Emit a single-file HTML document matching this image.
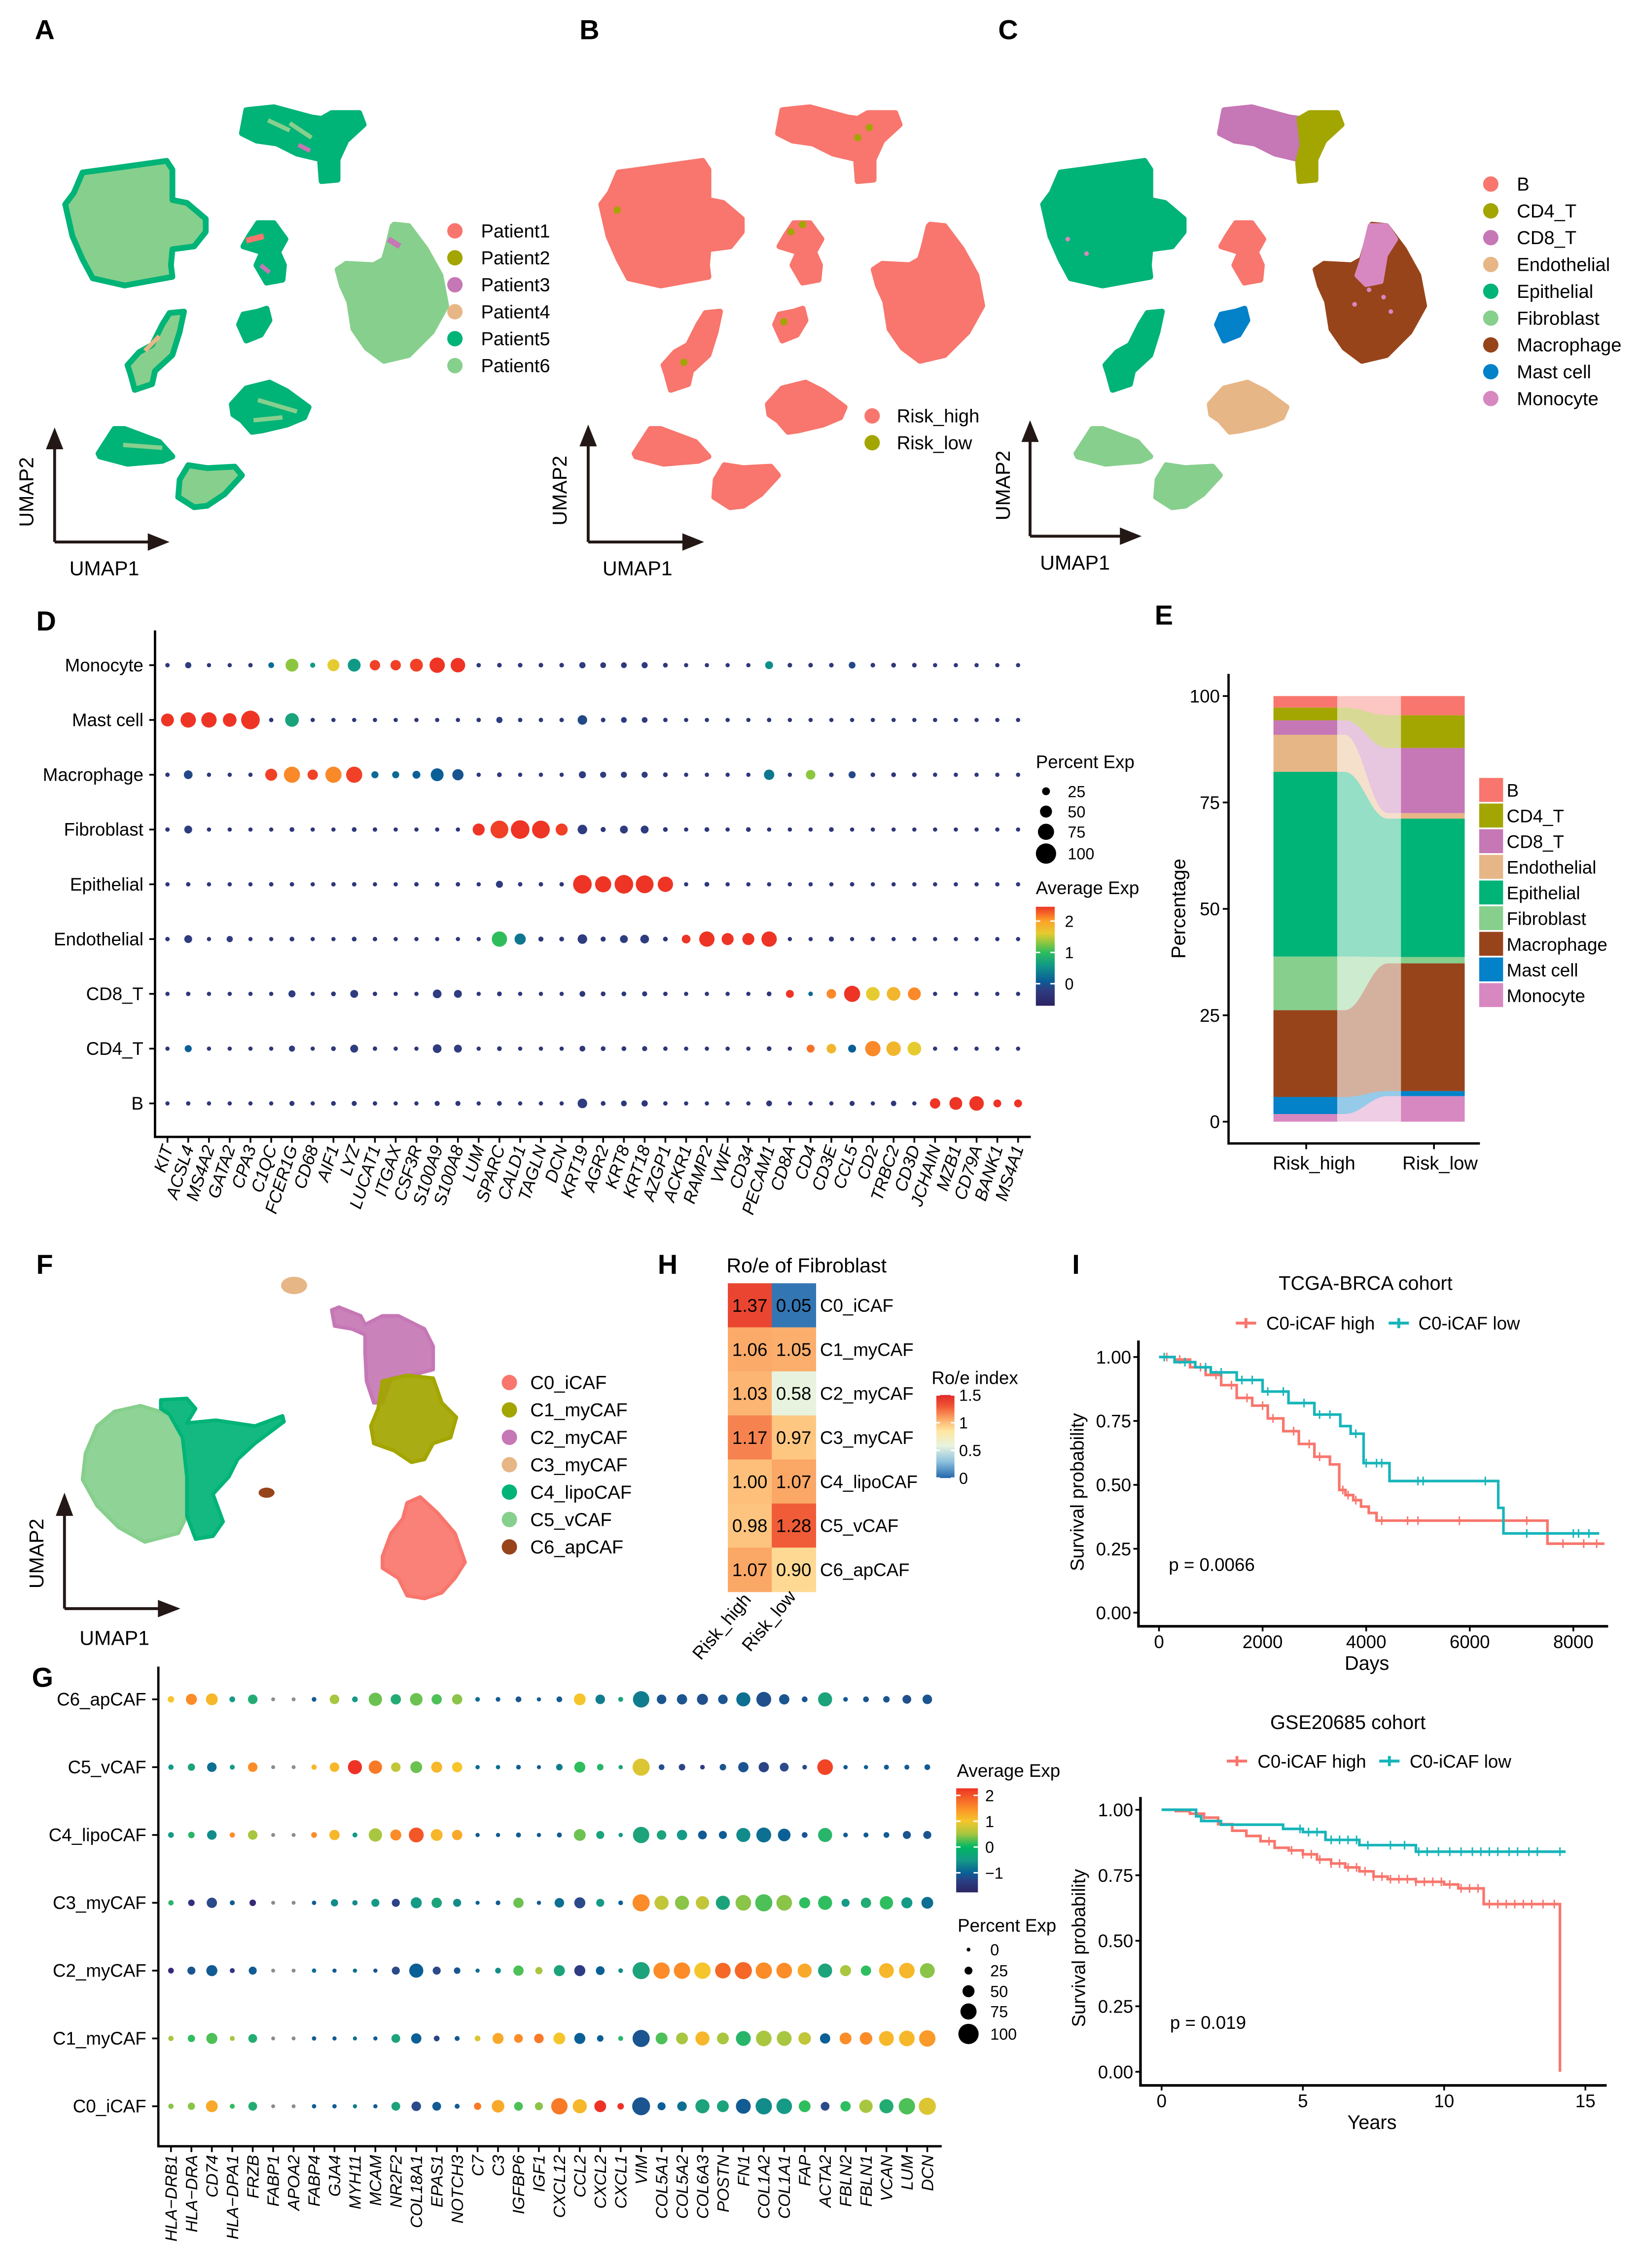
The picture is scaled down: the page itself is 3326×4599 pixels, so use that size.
<!DOCTYPE html>
<html><head><meta charset="utf-8"><style>
html,body{margin:0;padding:0;background:#fff}
svg{display:block}
text{font-family:"Liberation Sans",Arial,sans-serif;fill:#000}
.pl{font-weight:bold;font-size:19px}
</style></head><body>
<svg id="fig" xmlns="http://www.w3.org/2000/svg" width="3326" height="4599" viewBox="0 0 1132 1565" preserveAspectRatio="none">
<rect width="1132" height="1565" fill="#fff"/>
<text class="pl" x="24" y="27">A</text>
<text class="pl" x="400" y="27">B</text>
<text class="pl" x="689" y="27">C</text>
<text class="pl" x="25" y="435">D</text>
<text class="pl" x="797" y="431">E</text>
<text class="pl" x="25" y="879">F</text>
<text class="pl" x="22" y="1164">G</text>
<text class="pl" x="454" y="879">H</text>
<text class="pl" x="740" y="879">I</text>
<g id="root"></g>
</svg>
<script>
// ---------- data ----------
const umapClusters = ["Epithelial","CD8_T","CD4_T","B","Mast cell","Macrophage","Monocyte","EpiArm","Endothelial","Fibro1","Fibro2"];
const patientLabels = ["Patient1","Patient2","Patient3","Patient4","Patient5","Patient6"];
const riskLabels = ["Risk_high","Risk_low"];
const cellTypes = ["B","CD4_T","CD8_T","Endothelial","Epithelial","Fibroblast","Macrophage","Mast cell","Monocyte"];

const dGenes = ["KIT","ACSL4","MS4A2","GATA2","CPA3","C1QC","FCER1G","CD68","AIF1","LYZ","LUCAT1","ITGAX","CSF3R","S100A9","S100A8","LUM","SPARC","CALD1","TAGLN","DCN","KRT19","AGR2","KRT8","KRT18","AZGP1","ACKR1","RAMP2","VWF","CD34","PECAM1","CD8A","CD4","CD3E","CCL5","CD2","TRBC2","CD3D","JCHAIN","MZB1","CD79A","BANK1","MS4A1"];
const dRows = ["Monocyte","Mast cell","Macrophage","Fibroblast","Epithelial","Endothelial","CD8_T","CD4_T","B"];
const monoExp = [-0.3,-0.2,-0.3,-0.3,-0.3,0.2,1.3,0.6,1.6,0.6,2.4,2.4,2.4,2.5,2.5,-0.3,-0.3,-0.3,-0.3,-0.3,-0.2,-0.25,-0.25,-0.25,-0.3,-0.3,-0.3,-0.3,-0.3,0.5,-0.3,-0.3,-0.3,-0.1,-0.3,-0.3,-0.3,-0.3,-0.3,-0.3,-0.3,-0.3];
const monoPct = [4,15,3,3,4,12,55,8,50,55,40,40,55,70,65,4,5,5,5,5,15,12,12,14,6,3,3,3,3,25,5,5,5,18,5,6,5,3,3,3,3,3];
const mastExp = [2.5,2.5,2.5,2.5,2.5,-0.3,0.7,-0.3,-0.3,-0.3,-0.3,-0.3,-0.3,-0.3,-0.3,-0.3,-0.2,-0.3,-0.3,-0.3,-0.1,-0.3,-0.2,-0.2,-0.3,-0.3,-0.3,-0.3,-0.3,-0.3,-0.3,-0.3,-0.3,-0.3,-0.3,-0.3,-0.3,-0.3,-0.3,-0.3,-0.3,-0.3];
const mastPct = [55,70,70,60,90,4,60,3,3,3,3,3,3,3,3,4,15,4,4,4,35,5,12,12,4,3,3,3,3,4,3,3,3,3,3,3,3,3,3,3,3,3];
const macExp = [-0.3,-0.1,-0.3,-0.3,-0.3,2.4,2.1,2.4,2.1,2.4,0.2,0.2,0.1,0.1,0.0,-0.3,-0.3,-0.3,-0.3,-0.3,-0.2,-0.2,-0.2,-0.2,-0.3,-0.3,-0.3,-0.3,-0.3,0.3,-0.3,1.3,-0.3,-0.1,-0.3,-0.3,-0.3,-0.3,-0.3,-0.3,-0.3,-0.3];
const macPct = [4,30,3,3,3,50,75,40,75,75,20,20,25,55,45,3,6,3,3,3,20,14,14,14,6,3,3,3,3,40,3,35,5,20,5,6,5,3,3,3,3,3];
const fibExp = [-0.3,-0.2,-0.3,-0.3,-0.3,-0.3,-0.3,-0.3,-0.3,-0.3,-0.3,-0.3,-0.3,-0.3,-0.3,2.5,2.4,2.5,2.5,2.4,-0.2,-0.3,-0.2,-0.2,-0.3,-0.3,-0.3,-0.3,-0.3,-0.3,-0.3,-0.3,-0.3,-0.3,-0.3,-0.3,-0.3,-0.3,-0.3,-0.3,-0.3,-0.3];
const fibPct = [4,25,3,3,3,3,6,3,3,6,4,3,3,3,3,50,85,90,85,50,35,8,25,25,6,3,6,3,6,3,3,3,6,3,3,3,3,3,3,3,3,3];
const epiExp = [-0.3,-0.3,-0.3,-0.3,-0.3,-0.3,-0.3,-0.3,-0.3,-0.3,-0.3,-0.3,-0.3,-0.3,-0.3,-0.3,-0.2,-0.3,-0.3,-0.3,2.5,2.5,2.5,2.5,2.5,-0.3,-0.3,-0.3,-0.3,-0.3,-0.3,-0.3,-0.3,-0.3,-0.3,-0.3,-0.3,-0.3,-0.3,-0.3,-0.3,-0.3];
const epiPct = [3,4,3,3,3,4,4,3,4,4,3,3,4,5,4,3,20,4,4,4,90,75,90,85,70,3,6,3,3,3,3,3,3,4,3,3,3,3,3,3,3,3];
const endoExp = [-0.3,-0.2,-0.3,-0.2,-0.3,-0.3,-0.3,-0.3,-0.3,-0.3,-0.3,-0.3,-0.3,-0.3,-0.3,-0.3,1.0,0.3,-0.3,-0.3,-0.2,-0.3,-0.2,-0.2,-0.3,2.5,2.5,2.5,2.5,2.5,-0.3,-0.3,-0.3,-0.3,-0.3,-0.3,-0.3,-0.3,-0.3,-0.3,-0.3,-0.3];
const endoPct = [4,25,3,15,3,3,6,3,3,6,4,3,3,3,3,3,70,45,8,6,35,8,25,30,6,30,70,50,50,70,3,3,8,3,4,3,3,3,3,3,3,3];
const cd8Exp = [-0.3,-0.3,-0.3,-0.3,-0.3,-0.3,-0.2,-0.3,-0.3,-0.2,-0.3,-0.3,-0.3,-0.2,-0.2,-0.3,-0.3,-0.3,-0.3,-0.3,-0.3,-0.3,-0.3,-0.3,-0.3,-0.3,-0.3,-0.3,-0.3,-0.3,2.5,0.2,2.1,2.5,1.6,1.8,2.1,-0.3,-0.3,-0.3,-0.3,-0.3];
const cd8Pct = [3,4,3,3,3,3,20,3,6,25,4,3,3,30,25,3,6,3,3,3,12,6,6,8,4,3,3,3,3,6,25,5,35,75,60,60,55,3,3,3,3,3];
const cd4Exp = [-0.3,0.1,-0.3,-0.3,-0.3,-0.3,-0.2,-0.3,-0.3,-0.2,-0.3,-0.3,-0.3,-0.2,-0.2,-0.3,-0.3,-0.3,-0.3,-0.3,-0.3,-0.3,-0.3,-0.3,-0.3,-0.3,-0.3,-0.3,-0.3,-0.3,-0.3,2.2,1.8,0.1,2.1,1.8,1.6,-0.3,-0.3,-0.3,-0.3,-0.3];
const cd4Pct = [3,20,3,3,3,3,14,3,6,25,4,3,3,30,25,3,6,3,3,3,12,6,6,8,4,3,3,3,3,6,3,25,35,25,70,65,60,3,3,3,3,3];
const bExp = [-0.3,-0.3,-0.3,-0.3,-0.3,-0.3,-0.3,-0.3,-0.3,-0.3,-0.3,-0.3,-0.3,-0.3,-0.3,-0.3,-0.3,-0.3,-0.3,-0.3,-0.2,-0.3,-0.3,-0.3,-0.3,-0.3,-0.3,-0.3,-0.3,-0.3,-0.3,-0.3,-0.3,-0.3,-0.3,-0.3,-0.3,2.5,2.5,2.5,2.5,2.5];
const bPct = [3,4,3,3,3,3,8,3,6,8,4,3,3,8,8,3,6,3,3,3,35,6,12,15,4,3,3,3,3,12,3,3,3,8,3,10,3,40,55,65,25,25];
const dExp = [monoExp,mastExp,macExp,fibExp,epiExp,endoExp,cd8Exp,cd4Exp,bExp];
const dPct = [monoPct,mastPct,macPct,fibPct,epiPct,endoPct,cd8Pct,cd4Pct,bPct];
const dSizeTicks = [25,50,75,100];
const dColorTicks = [2,1,0];

const eGroups = ["Risk_high","Risk_low"];
const eOrder = ["Monocyte","Mast cell","Macrophage","Fibroblast","Epithelial","Endothelial","CD8_T","CD4_T","B"];
const eHigh = [1.8,4.0,20.4,12.6,43.4,8.7,3.4,3.0,2.7];
const eLow = [6.0,1.2,30.0,1.5,32.5,1.3,15.3,7.7,4.5];
const eTicks = [0,25,50,75,100];

const fLabels = ["C0_iCAF","C1_myCAF","C2_myCAF","C3_myCAF","C4_lipoCAF","C5_vCAF","C6_apCAF"];

const gGenes = ["HLA−DRB1","HLA−DRA","CD74","HLA−DPA1","FRZB","FABP1","APOA2","FABP4","GJA4","MYH11","MCAM","NR2F2","COL18A1","EPAS1","NOTCH3","C7","C3","IGFBP6","IGF1","CXCL12","CCL2","CXCL2","CXCL1","VIM","COL5A1","COL5A2","COL6A3","POSTN","FN1","COL1A2","COL1A1","FAP","ACTA2","FBLN2","FBLN1","VCAN","LUM","DCN"];
const gRows = ["C6_apCAF","C5_vCAF","C4_lipoCAF","C3_myCAF","C2_myCAF","C1_myCAF","C0_iCAF"];
const c6Exp = [1.1,1.5,1.2,0,0.2,null,null,-0.5,0.8,0,0.6,0.2,0.6,0.5,0.7,-0.3,-0.5,-0.6,-0.5,-0.5,1.1,-0.2,0.1,-0.2,-0.6,-0.6,-0.7,-0.6,-0.3,-0.7,-0.6,-0.6,0.1,-0.5,-0.6,-0.6,-0.7,-0.6];
const c6Pct = [20,50,55,15,40,3,3,8,40,15,65,45,60,45,45,8,8,15,5,15,55,40,10,85,40,45,50,40,70,75,45,15,70,8,15,20,35,40];
const c5Exp = [0,0.1,-0.3,0,1.5,null,null,1.2,1.2,2.1,1.6,0.9,0.6,1.2,1.1,-0.3,-0.3,-0.5,-0.5,-0.2,0.4,0.3,0.1,1.0,-0.7,-0.9,-1.0,-0.6,-0.6,-0.9,-0.8,-0.8,1.9,-0.5,-0.4,-0.5,-0.5,-0.5];
const c5Pct = [12,25,40,10,40,3,3,12,40,70,65,40,55,50,45,6,6,8,4,20,50,20,6,90,15,20,8,20,45,45,35,8,80,6,5,10,10,15];
const c4Exp = [0,0.3,-0.1,1.5,0.8,null,null,1.5,1.2,0,0.8,1.5,1.8,1.2,1.3,-0.5,-0.5,-0.5,-0.5,-0.5,0.6,0.1,0,0.1,0.1,0,-0.5,-0.5,-0.1,-0.3,-0.4,-0.6,0.3,-0.5,-0.5,-0.5,-0.6,-0.6];
const c4Pct = [15,20,40,12,40,3,3,15,45,10,65,50,75,55,45,5,5,10,5,10,55,30,6,85,40,45,35,30,70,75,60,15,70,8,10,15,30,30];
const c3Exp = [0.3,-1.2,-0.8,-0.5,-1.3,null,null,-0.5,-0.1,-0.1,0,-0.9,0,0.1,-0.1,-0.4,-0.5,0.6,-0.5,-0.3,-0.8,0,-0.4,1.5,0.9,0.7,0.9,0.1,0.7,0.5,0.7,0.4,0.4,0,0.2,0.4,0,-0.3];
const c3Pct = [12,20,45,10,20,3,3,6,25,12,30,30,50,45,30,4,8,45,5,40,50,30,8,90,70,70,65,70,80,90,80,50,70,30,45,65,50,55];
const c2Exp = [-1.3,-0.6,-0.5,-1.1,-0.5,null,null,-0.3,-0.5,-0.3,-0.6,-0.8,-0.4,-0.8,-0.6,-0.3,-0.1,0.5,0.8,0.1,-1.0,-0.4,-0.1,0.1,1.5,1.5,1.1,1.7,1.7,1.5,1.5,1.3,0.1,0.8,0.4,1.2,1.2,0.7];
const c2Pct = [15,30,50,10,30,3,3,6,5,5,5,30,70,30,20,5,15,45,25,50,50,35,8,90,85,85,85,80,90,85,80,70,70,50,45,75,80,75];
const c1Exp = [0.8,0.4,0.5,0.8,0.2,null,null,-0.5,-0.5,-0.3,-0.5,0.1,-0.4,-0.9,-0.5,1.0,1.3,1.5,1.6,1.1,-0.4,-0.4,0.3,-0.6,0.5,0.8,1.2,0.8,0.3,0.8,0.8,0.9,-0.4,1.5,1.5,1.2,1.2,1.4];
const c1Pct = [12,25,50,10,35,3,3,6,5,4,5,35,45,15,10,15,50,35,40,55,50,20,10,90,55,55,70,55,75,80,75,60,45,55,60,75,80,85];
const c0Exp = [0.7,0.7,1.3,0.4,0.2,null,null,-0.5,-0.5,-0.2,-0.5,0.1,-0.8,-0.5,-0.5,1.6,1.3,0.5,0.7,1.6,1.2,2.0,2.1,-0.6,-0.4,-0.3,0.1,0.1,-0.5,-0.1,0,0.4,-0.8,0.4,0.8,0.2,0.5,1.0];
const c0Pct = [12,25,55,10,35,3,3,6,6,5,5,35,40,35,10,25,60,35,30,85,70,55,20,95,30,40,70,55,75,85,80,55,35,45,65,70,85,90];
const gExp = [c6Exp,c5Exp,c4Exp,c3Exp,c2Exp,c1Exp,c0Exp];
const gPct = [c6Pct,c5Pct,c4Pct,c3Pct,c2Pct,c1Pct,c0Pct];
const gSizeTicks = [0,25,50,75,100];
const gColorTicks = [2,1,0,-1];

const hRows = ["C0_iCAF","C1_myCAF","C2_myCAF","C3_myCAF","C4_lipoCAF","C5_vCAF","C6_apCAF"];
const hHigh = [1.37,1.06,1.03,1.17,1.00,0.98,1.07];
const hLow = [0.05,1.05,0.58,0.97,1.07,1.28,0.90];
const hTicks = [1.5,1,0.5,0];

const km1HighT = [0,300,600,900,1200,1500,1800,2100,2400,2700,3000,3300,3480,3600,3750,3900,4050,4200,7500];
const km1HighS = [1,0.99,0.96,0.93,0.89,0.84,0.81,0.76,0.71,0.66,0.61,0.58,0.48,0.46,0.44,0.415,0.39,0.36,0.27];
const km1LowT = [0,300,700,1000,1500,2000,2500,3000,3500,3700,3950,4450,6550,6650];
const km1LowS = [1,0.98,0.96,0.94,0.91,0.865,0.82,0.775,0.73,0.70,0.585,0.515,0.41,0.31];
const km1HighCens = [150,400,800,1100,1400,1700,2000,2200,2600,2900,3100,3550,3650,3800,4300,4800,5000,5800,7100,7800,8200,8450];
const km1LowCens = [100,500,900,1200,1600,1800,2100,2400,2800,3100,3300,3800,4000,4200,4300,5000,5100,6300,7100,8000,8100,8300];
const km1XTicks = [0,2000,4000,6000,8000];
const km2HighT = [0,0.5,1,1.5,2,2.5,3,3.5,4,4.5,5,5.5,6,6.5,7,7.5,8,9,10,10.5,11.4,14.1];
const km2HighS = [1,0.995,0.985,0.97,0.945,0.92,0.90,0.88,0.855,0.845,0.83,0.81,0.795,0.78,0.765,0.745,0.735,0.725,0.715,0.70,0.64,0];
const km2LowT = [0,1.22,1.4,2.1,4.3,5,5.8,7,9];
const km2LowS = [1,0.975,0.957,0.943,0.927,0.915,0.885,0.865,0.84];
const km2HighCens = [1.5,3.8,4.6,5.0,5.3,5.6,6.0,6.3,6.6,6.9,7.2,7.5,7.8,8.1,8.4,8.7,9.0,9.3,9.6,9.9,10.2,10.6,10.9,11.2,11.6,11.9,12.2,12.5,12.8,13.1,13.5,13.9];
const km2LowCens = [4.9,5.2,5.5,6.0,6.3,6.6,6.9,7.3,8.1,8.6,9.1,9.4,9.8,10.2,10.6,11.0,11.3,11.6,11.9,12.3,12.6,13.0,13.3,14.1];
const yTicksKM = [0,0.25,0.5,0.75,1];
const km2XTicks = [0,5,10,15];

// ---------- helpers ----------
const NS="http://www.w3.org/2000/svg";
const root=document.getElementById('root');
function mk(tag,attrs,parent,txt){const e=document.createElementNS(NS,tag);for(const k in attrs)e.setAttribute(k,attrs[k]);if(txt!==undefined)e.textContent=txt;(parent||root).appendChild(e);return e;}
function grp(name,parent){const g=mk('g',{},parent);


return g;}
function hex2rgb(h){return [parseInt(h.slice(1,3),16),parseInt(h.slice(3,5),16),parseInt(h.slice(5,7),16)];}
function interp(stops,v){if(v<=stops[0][0])return stops[0][1];if(v>=stops[stops.length-1][0])return stops[stops.length-1][1];
for(let i=0;i<stops.length-1;i++){const a=stops[i],b=stops[i+1];if(v>=a[0]&&v<=b[0]){const t=(v-a[0])/(b[0]-a[0]);const A=hex2rgb(a[1]),B=hex2rgb(b[1]);
return 'rgb('+A.map((x,j)=>Math.round(x+(B[j]-x)*t)).join(',')+')';}}}
const dStops=[[-0.7,'#2b2263'],[-0.2,'#2f3c80'],[0.1,'#0b5f97'],[0.6,'#109a86'],[1.0,'#2fbd5c'],[1.3,'#8cc640'],[1.6,'#e6cb30'],[2.0,'#fca12a'],[2.45,'#ee3425']];
const gStops=[[-1.3,'#352a78'],[-0.8,'#2a4a8a'],[-0.4,'#0a6096'],[0,'#159a86'],[0.4,'#2fbe5f'],[0.8,'#a8c640'],[1.1,'#f6c52b'],[1.5,'#fb8c28'],[2.0,'#ee3326']];
const hStops=[[0,'#2166ac'],[0.3,'#8ec3de'],[0.58,'#e8f3df'],[0.85,'#fee6a0'],[1.0,'#fdbf7a'],[1.1,'#fa9c5e'],[1.3,'#ef5533'],[1.5,'#e0282a']];
const radius=p=>1.3+0.057*p;

// ---------- UMAP panels A-C ----------
const umapPts={
Epithelial:[[45,141],[51,133],[57,119],[72,117],[115,111],[119,117],[119,138],[129,140],[142,151],[142,160],[134,170],[119,172],[118,183],[119,191],[86,197],[64,192],[57,179],[50,163]],
CD8_T:[[167,92],[170,76],[189,74],[215,81],[222,82],[224,100],[222,110],[205,106],[191,99],[177,97]],
CD4_T:[[222,82],[229,78],[248,78],[251,86],[239,97],[233,110],[233,124],[222,125],[221,112],[224,100]],
B:[[168,170],[172,163],[178,154],[189,154],[197,165],[192,174],[196,183],[195,193],[184,195],[177,183],[181,174]],
"Mast cell":[[165,224],[168,217],[178,215],[184,213],[186,221],[180,231],[170,235]],
Macrophage:[[233,186],[239,182],[258,183],[265,179],[272,155],[282,156],[294,172],[304,190],[308,211],[298,229],[282,245],[265,249],[253,240],[244,227],[241,208],[236,197]],
Monocyte:[[265,181],[271,156],[282,156],[288,165],[281,176],[278,194],[268,196],[262,190]],
EpiArm:[[88,252],[96,243],[105,238],[112,224],[117,216],[127,215],[124,229],[119,245],[107,256],[105,265],[93,269],[90,258]],
Endothelial:[[160,279],[170,268],[186,264],[198,270],[213,281],[210,288],[198,293],[181,297],[174,298],[167,290],[161,286]],
Fibro1:[[68,313],[79,296],[86,296],[110,305],[119,315],[112,318],[100,319],[88,320],[69,315]],
Fibro2:[[124,331],[130,321],[143,323],[162,322],[167,328],[155,341],[143,349],[134,350],[123,343]]};
const ctCol={B:'#f8766d',CD4_T:'#a3a500',CD8_T:'#c677b5',Endothelial:'#e7b686',Epithelial:'#00b377',Fibroblast:'#87cf8d',Macrophage:'#98441b','Mast cell':'#0381c9',Monocyte:'#d888c0'};
const patCol=['#f8766d','#a3a500','#c677b5','#e7b686','#00b377','#87cf8d'];
const colA={Epithelial:['#87cf8d','#00b377'],CD8_T:['#00b377','#00b377'],CD4_T:['#00b377','#00b377'],B:['#00b377','#00b377'],"Mast cell":['#00b377','#00b377'],Macrophage:['#87cf8d','#87cf8d'],Monocyte:['#87cf8d','#87cf8d'],EpiArm:['#87cf8d','#00b377'],Endothelial:['#00b377','#00b377'],Fibro1:['#00b377','#00b377'],Fibro2:['#87cf8d','#00b377']};
const colC={Epithelial:'#00b377',CD8_T:'#c677b5',CD4_T:'#a3a500',B:'#f8766d',"Mast cell":'#0381c9',Macrophage:'#98441b',Monocyte:'#d888c0',EpiArm:'#00b377',Endothelial:'#e7b686',Fibro1:'#87cf8d',Fibro2:'#87cf8d'};
function drawUmap(panel,dx,mode){
 const g=grp('umap-'+panel);
 umapClusters.forEach(c=>{
  let fill,stroke;
  if(mode==='A'){fill=colA[c][0];stroke=colA[c][1];}
  else if(mode==='B'){fill='#f8766d';stroke='#f8766d';}
  else {fill=colC[c];stroke=colC[c];}
  const pts=umapPts[c].map(p=>(p[0]+dx)+','+p[1]).join(' ');
  const pg=mk('polygon',{points:pts,fill:fill,stroke:stroke,'stroke-width':4,'stroke-linejoin':'round'},g);
  
  
 });
 if(mode==='A'){
  mk('path',{d:'M'+(85+dx)+',307 L'+(112+dx)+',309',stroke:'#87cf8d','stroke-width':3},g);
  mk('path',{d:'M'+(178+dx)+',276 L'+(205+dx)+',284 M'+(175+dx)+',290 L'+(195+dx)+',288',stroke:'#87cf8d','stroke-width':3},g);
  mk('path',{d:'M'+(200+dx)+',85 L'+(215+dx)+',95 M'+(185+dx)+',83 L'+(200+dx)+',90',stroke:'#87cf8d','stroke-width':3},g);
  mk('path',{d:'M'+(206+dx)+',100 L'+(214+dx)+',104',stroke:'#c677b5','stroke-width':3},g);
  mk('path',{d:'M'+(170+dx)+',166 L'+(182+dx)+',163',stroke:'#f8766d','stroke-width':4},g);
  mk('path',{d:'M'+(180+dx)+',183 L'+(186+dx)+',188',stroke:'#c677b5','stroke-width':3},g);
  mk('path',{d:'M'+(100+dx)+',242 L'+(110+dx)+',232',stroke:'#e7b686','stroke-width':3},g);
  mk('path',{d:'M'+(268+dx)+',165 L'+(276+dx)+',170',stroke:'#c677b5','stroke-width':4},g);
 }
 if(mode==='B'){
  [[176,160],[184,155],[222,95],[230,88],[56,145],[102,250],[171,222]].forEach(p=>mk('circle',{cx:p[0]+dx,cy:p[1],r:2.5,fill:'#a3a500'},g));
 }
 if(mode==='C'){
  [[270,200],[280,205],[285,215],[260,210],[62,165],[75,175]].forEach(p=>mk('circle',{cx:p[0]+dx,cy:p[1],r:1.6,fill:'#d888c0'},g));
 }
}
drawUmap('a',0,'A');drawUmap('b',370,'B');drawUmap('c',675,'C');

function umapAxes(name,x0,yb,yt,xr,l2x,l1x,l1y){
 const g=grp(name);
 mk('path',{d:`M${x0},${yb} L${x0},${yt+12} M${x0},${yb} L${xr-12},${yb}`,stroke:'#231815','stroke-width':2,fill:'none'},g);
 mk('polygon',{points:`${x0},${yt} ${x0-6},${yt+15} ${x0+6},${yt+15}`,fill:'#231815'},g);
 mk('polygon',{points:`${xr},${yb} ${xr-15},${yb-6} ${xr-15},${yb+6}`,fill:'#231815'},g);
 mk('text',{x:l1x,y:l1y,'font-size':14,'text-anchor':'middle'},g,'UMAP1');
 mk('text',{x:l2x,y:(yb+yt)/2+5,'font-size':14,'text-anchor':'middle',transform:`rotate(-90 ${l2x} ${(yb+yt)/2+5})`},g,'UMAP2');
}
umapAxes('umap-axes-a',37.7,374,295,117,23,72,397);
umapAxes('umap-axes-b',406,374,293,486,391,440,397);
umapAxes('umap-axes-c',711,370,290,788,697,742,393);

function dotLegend(name,labels,cols,x,y0,step,fs,tx){
 const g=grp(name);
 labels.forEach((l,i)=>{const y=y0+i*step;
  const it=grp(name+'-entry',g);
  mk('circle',{cx:x,cy:y,r:5.3,fill:cols[i]},it);
  mk('text',{x:tx,y:y+4.5,'font-size':fs},it,l);
 });
}
dotLegend('legend-patients',patientLabels,patCol,314,159.3,18.6,13,332);
dotLegend('legend-risk',riskLabels,['#f8766d','#a3a500'],602,287,18.5,13,619);
dotLegend('legend-celltypes',cellTypes,cellTypes.map(c=>ctCol[c]),1029,127,18.5,13,1047);

// ---------- panel D ----------
(function(){
 const g=grp('dotplot-d');
 const x0=115.6,dx=14.32,y0=459,dy=37.8;
 const xs=i=>x0+i*dx, ys=j=>y0+j*dy;
 mk('path',{d:'M107,435 L107,784.5 L711.5,784.5',stroke:'#000','stroke-width':1.6,fill:'none'},g);
 dRows.forEach((r,j)=>{
  mk('line',{x1:103,x2:107,y1:ys(j),y2:ys(j),stroke:'#000','stroke-width':1.2},g);
  const t=mk('text',{x:99,y:ys(j)+4.3,'font-size':12.5,'text-anchor':'end'},g,r);
  
  
  dGenes.forEach((gn,i)=>{
   const c=mk('circle',{cx:xs(i),cy:ys(j),r:radius(dPct[j][i]),fill:interp(dStops,dExp[j][i])},g);
   
   
  });
 });
 dGenes.forEach((gn,i)=>{
  mk('line',{x1:xs(i),x2:xs(i),y1:784.5,y2:788.5,stroke:'#000','stroke-width':1.2},g);
  const X=xs(i)+4,Y=792;
  const t=mk('text',{x:X,y:Y,'font-size':12,'font-style':'italic','text-anchor':'end',transform:`rotate(-72 ${X} ${Y})`},g,gn);
  
  
 });
 const lg=grp('legend-d',g);
 mk('text',{x:715,y:530,'font-size':12.5},lg,'Percent Exp');
 const sy=[546,560,574,589];
 dSizeTicks.forEach((p,i)=>{mk('circle',{cx:722,cy:sy[i],r:radius(p),fill:'#000'},lg);mk('text',{x:737,y:sy[i]+4,'font-size':11},lg,String(p));});
 mk('text',{x:715,y:617,'font-size':12.5},lg,'Average Exp');
 const id='gd';const defs=mk('defs',{},lg);const lgr=mk('linearGradient',{id:id,x1:0,y1:1,x2:0,y2:0},defs);
 dStops.forEach(s=>mk('stop',{offset:((s[0]+0.7)/3.15),'stop-color':s[1]},lgr));
 mk('rect',{x:715,y:625.7,width:13,height:68.3,fill:`url(#${id})`},lg);
 const cy=v=>678.8-v*21.6;
 dColorTicks.forEach(v=>{mk('path',{d:`M715,${cy(v)} h3 M728,${cy(v)} h-3`,stroke:'#fff','stroke-width':1},lg);mk('text',{x:735,y:cy(v)+4,'font-size':11},lg,String(v));});
})();

// ---------- panel E ----------
(function(){
 const g=grp('stacked-bar-e');
 const y=v=>774-v*2.937;
 mk('path',{d:'M848,465 L848,789 L1021.5,789',stroke:'#000','stroke-width':1.6,fill:'none'},g);
 eTicks.forEach(v=>{mk('line',{x1:844,x2:848,y1:y(v),y2:y(v),stroke:'#000','stroke-width':1.2},g);mk('text',{x:842,y:y(v)+4.5,'font-size':12.5,'text-anchor':'end'},g,String(v));});
 mk('line',{x1:901.6,x2:901.6,y1:789,y2:793,stroke:'#000','stroke-width':1.2},g);
 mk('line',{x1:989.8,x2:989.8,y1:789,y2:793,stroke:'#000','stroke-width':1.2},g);
 mk('text',{x:907,y:807,'font-size':13,'text-anchor':'middle'},g,'Risk_high');
 mk('text',{x:994,y:807,'font-size':13,'text-anchor':'middle'},g,'Risk_low');
 mk('text',{x:818,y:627,'font-size':13.5,'text-anchor':'middle',transform:'rotate(-90 818 627)'},g,'Percentage');
 let a=0,b=0;
 eOrder.forEach((c,i)=>{
  const col=ctCol[c];
  const a1=a+eHigh[i], b1=b+eLow[i];
  const r1=mk('rect',{x:879,y:y(a1),width:44,height:y(a)-y(a1),fill:col},g);
  
  
  const r2=mk('rect',{x:967,y:y(b1),width:44,height:y(b)-y(b1),fill:col},g);
  
  
  const xm1=936,xm2=954;
  const d=`M923,${y(a1)} L${xm1-8},${y(a1)} C${xm1+4},${y(a1)} ${xm2-8},${y(b1)} ${xm2+4},${y(b1)} L967,${y(b1)} L967,${y(b)} L${xm2+4},${y(b)} C${xm2-8},${y(b)} ${xm1+4},${y(a)} ${xm1-8},${y(a)} L923,${y(a)} Z`;
  const f=mk('path',{d:d,fill:col,'fill-opacity':0.42},g);
  
  
  a=a1;b=b1;
 });
 const lg=grp('legend-e',g);
 cellTypes.forEach((c,i)=>{const yy=536.8+i*17.7;
  mk('rect',{x:1021,y:yy,width:16.5,height:16.5,fill:ctCol[c]},lg);
  mk('text',{x:1040,y:yy+13,'font-size':12.5,fill:c==='Fibroblast'?'#ff0000':'#000'},lg,c);});
})();

// ---------- panel F ----------
(function(){
 const g=grp('umap-f');
 const fp={
 C5:[[59,1003],[67,984],[79,974],[97,970],[117,976],[126,992],[129,1019],[129,1046],[123,1058],[100,1064],[82,1054],[67,1039],[57,1021]],
 C4:[[111,966],[129,965],[135,972],[129,982],[149,980],[176,984],[195,977],[196,981],[176,996],[164,1007],[158,1019],[147,1031],[154,1050],[147,1060],[135,1062],[129,1046],[129,1019],[126,992],[117,976],[111,972]],
 C2:[[229,904],[234,902],[249,908],[252,914],[264,908],[275,908],[293,917],[299,929],[299,945],[284,949],[270,951],[264,968],[258,968],[253,953],[252,933],[252,921],[243,917],[231,915]],
 C1:[[264,953],[281,949],[299,951],[305,968],[315,978],[311,992],[299,996],[293,1007],[284,1009],[272,1001],[258,996],[256,984],[261,972]],
 C0:[[281,1037],[290,1033],[302,1044],[314,1058],[321,1078],[314,1089],[305,1099],[293,1103],[281,1101],[275,1089],[264,1082],[264,1074],[270,1058],[278,1048]]};
 const fc={C0:'#f8766d',C1:'#a3a500',C2:'#c677b5',C3:'#e7b686',C4:'#00b377',C5:'#87cf8d',C6:'#98441b'};
 for(const k in fp){const p=mk('polygon',{points:fp[k].map(q=>q.join(',')).join(' '),fill:fc[k],stroke:fc[k],'stroke-width':2.5,'stroke-linejoin':'round','fill-opacity':0.92},g);
  
  }
 mk('ellipse',{cx:203,cy:887,rx:9,ry:6,fill:fc.C3},g);
 mk('ellipse',{cx:184,cy:1030,rx:5.5,ry:3.5,fill:fc.C6},g);
 mk('path',{d:'M44.5,1110 L44.5,1040 M44.5,1110 L112,1110',stroke:'#231815','stroke-width':2,fill:'none'},g);
 mk('polygon',{points:'44.5,1030 38.5,1046 50.5,1046',fill:'#231815'},g);
 mk('polygon',{points:'124.5,1110 109,1104 109,1116',fill:'#231815'},g);
 mk('text',{x:79,y:1135,'font-size':14,'text-anchor':'middle'},g,'UMAP1');
 mk('text',{x:30,y:1072,'font-size':14,'text-anchor':'middle',transform:'rotate(-90 30 1072)'},g,'UMAP2');
 const cols=[fc.C0,fc.C1,fc.C2,fc.C3,fc.C4,fc.C5,fc.C6];
 dotLegend('legend-f',fLabels,cols,351.6,954,18.9,13,366);
})();

// ---------- panel G ----------
(function(){
 const g=grp('dotplot-g');
 const x0=118,dx=14.11,y0=1172.6,dy=46.8;
 const xs=i=>x0+i*dx, ys=j=>y0+j*dy;
 mk('path',{d:'M109.3,1150 L109.3,1481 L650,1481',stroke:'#000','stroke-width':1.6,fill:'none'},g);
 gRows.forEach((r,j)=>{
  mk('line',{x1:105,x2:109.3,y1:ys(j),y2:ys(j),stroke:'#000','stroke-width':1.2},g);
  const t=mk('text',{x:101,y:ys(j)+4.3,'font-size':12.5,'text-anchor':'end'},g,r);
  
  
  gGenes.forEach((gn,i)=>{
   const v=gExp[j][i];
   const c=mk('circle',{cx:xs(i),cy:ys(j),r:radius(gPct[j][i])*0.92,fill:v===null?'#8c8c8c':interp(gStops,v)},g);
   
   
  });
 });
 gGenes.forEach((gn,i)=>{
  mk('line',{x1:xs(i),x2:xs(i),y1:1481,y2:1485,stroke:'#000','stroke-width':1.2},g);
  const X=xs(i)+4,Y=1487;
  const t=mk('text',{x:X,y:Y,'font-size':11.5,'font-style':'italic','text-anchor':'end',transform:`rotate(-90 ${X} ${Y})`},g,gn);
  
  
 });
 const lg=grp('legend-g',g);
 mk('text',{x:660.5,y:1226,'font-size':12.5},lg,'Average Exp');
 const defs=mk('defs',{},lg);const lgr=mk('linearGradient',{id:'gg',x1:0,y1:1,x2:0,y2:0},defs);
 [[-1.75,'#2c2563'],[-1.3,'#2a3f85'],[-1,'#0a6096'],[-0.5,'#149a86'],[0,'#00b862'],[0.5,'#a8c640'],[1,'#f6c52b'],[1.5,'#fb8c28'],[2.25,'#ee3326']].forEach(s=>mk('stop',{offset:(s[0]+1.75)/4,'stop-color':s[1]},lgr));
 mk('rect',{x:660,y:1234,width:15,height:71.8,fill:'url(#gg)'},lg);
 const cy=v=>1274.5-v*17.8;
 gColorTicks.forEach(v=>{mk('path',{d:`M660,${cy(v)} h3 M675,${cy(v)} h-3`,stroke:'#fff','stroke-width':1},lg);mk('text',{x:680,y:cy(v)+4,'font-size':11},lg,v<0?'−'+Math.abs(v):String(v));});
 mk('text',{x:661,y:1333,'font-size':12.5},lg,'Percent Exp');
 const sy=[1345.3,1359.8,1374,1388,1403.5];
 gSizeTicks.forEach((p,i)=>{mk('circle',{cx:668.5,cy:sy[i],r:radius(p),fill:'#000'},lg);mk('text',{x:683.5,y:sy[i]+4,'font-size':11},lg,String(p));});
})();

// ---------- panel H ----------
(function(){
 const g=grp('heatmap-h');
 mk('text',{x:501.5,y:878,'font-size':14},g,'Ro/e of Fibroblast');
 const cw=30.3,ch=30.4,x0=502.4,y0=885.5;
 hRows.forEach((r,j)=>{
  [hHigh,hLow].forEach((arr,k)=>{
   const v=arr[j];
   const rc=mk('rect',{x:x0+k*cw,y:y0+j*ch,width:cw+0.3,height:ch+0.3,fill:interp(hStops,v)},g);
   
   
   mk('text',{x:x0+k*cw+cw/2,y:y0+j*ch+ch/2+4.5,'font-size':12.5,'text-anchor':'middle'},g,v.toFixed(2));
  });
  mk('text',{x:566,y:y0+j*ch+ch/2+4.5,'font-size':12.5,fill:r==='C0_iCAF'?'#ff0000':'#000'},g,r);
 });
 mk('text',{x:519,y:1104,'font-size':12.5,'text-anchor':'end',transform:'rotate(-50 519 1104)'},g,'Risk_high');
 mk('text',{x:550,y:1102,'font-size':12.5,'text-anchor':'end',transform:'rotate(-50 550 1102)'},g,'Risk_low');
 const lg=grp('legend-h',g);
 mk('text',{x:643,y:955,'font-size':12.5},lg,'Ro/e index');
 const defs=mk('defs',{},lg);const lgr=mk('linearGradient',{id:'hg',x1:0,y1:1,x2:0,y2:0},defs);
 hStops.forEach(s=>mk('stop',{offset:s[0]/1.5,'stop-color':s[1]},lgr));
 mk('rect',{x:646.3,y:962.6,width:12.5,height:57.3,fill:'url(#hg)'},lg);
 const cy=v=>1019.9-v*38.2;
 hTicks.forEach(v=>{mk('path',{d:`M646.3,${cy(v)} h2.5 M658.8,${cy(v)} h-2.5`,stroke:'#fff','stroke-width':1},lg);mk('text',{x:662,y:cy(v)+4,'font-size':11},lg,String(v));});
})();

// ---------- panel I ----------
function km(name,o){
 const g=grp(name);
 const X=t=>o.x0+t*o.sx, Y=s=>o.y0-s*o.sy;
 mk('text',{x:o.titleX,y:o.titleY,'font-size':13.5,'text-anchor':'middle'},g,o.title);
 const lg=grp(name+'-legend',g);
 [[o.lhX,'#f8766d','C0-iCAF high',o.lhT],[o.llX,'#16b5ba','C0-iCAF low',o.llT]].forEach(e=>{
  mk('path',{d:`M${e[0]-7},${o.legY} h14 M${e[0]},${o.legY-3.5} v7`,stroke:e[1],'stroke-width':2},lg);
  mk('text',{x:e[3],y:o.legY+4.5,'font-size':12.5},lg,e[2]);
 });
 mk('path',{d:`M${o.axX},${o.axTop} L${o.axX},${o.axY} L${o.axR},${o.axY}`,stroke:'#000','stroke-width':1.8,fill:'none'},g);
 yTicksKM.forEach(v=>{mk('line',{x1:o.axX-3.5,x2:o.axX,y1:Y(v),y2:Y(v),stroke:'#000','stroke-width':1.2},g);mk('text',{x:o.axX-5,y:Y(v)+4.5,'font-size':12.5,'text-anchor':'end'},g,v.toFixed(2));});
 o.xt.forEach(v=>{mk('line',{x1:X(v),x2:X(v),y1:o.axY,y2:o.axY+3.5,stroke:'#000','stroke-width':1.2},g);mk('text',{x:X(v),y:o.axY+15,'font-size':12.5,'text-anchor':'middle'},g,String(v));});
 mk('text',{x:o.xlabX,y:o.axY+30,'font-size':13.5,'text-anchor':'middle'},g,o.xlab);
 mk('text',{x:o.ylabX,y:(o.y0+Y(1))/2+5,'font-size':13,'text-anchor':'middle',transform:`rotate(-90 ${o.ylabX} ${(o.y0+Y(1))/2+5})`},g,'Survival probability');
 mk('text',{x:o.pX,y:o.pY,'font-size':12.5},g,o.p);
 function curve(T,S,end,cens,col,nm){
  let d=`M${X(T[0])},${Y(S[0])}`;
  for(let i=1;i<T.length;i++){d+=` L${X(T[i])},${Y(S[i-1])} L${X(T[i])},${Y(S[i])}`;}
  d+=` L${X(end)},${Y(S[S.length-1])}`;
  const p=mk('path',{d:d,stroke:col,'stroke-width':1.8,fill:'none'},g);
  
  
  const sAt=t=>{let s=S[0];for(let i=0;i<T.length;i++)if(T[i]<=t)s=S[i];return s;};
  let cd='';cens.forEach(t=>{cd+=`M${X(t)},${Y(sAt(t))-3} v6 `;});
  mk('path',{d:cd,stroke:col,'stroke-width':1},g);
 }
 curve(o.hT,o.hS,o.hEnd,o.hC,'#f8766d','km-curve-high');
 curve(o.lT,o.lS,o.lEnd,o.lC,'#16b5ba','km-curve-low');
}
km('km-tcga',{x0:800,sx:0.03575,y0:1112.8,sy:176.4,title:'TCGA-BRCA cohort',titleX:942.6,titleY:890,legY:913,lhX:860,lhT:874,llX:965.5,llT:979,
 axX:785.8,axTop:925,axY:1122.2,axR:1110,xt:km1XTicks,xlab:'Days',xlabX:943.5,ylabX:748,pX:806.7,pY:1084,p:'p = 0.0066',
 hT:km1HighT,hS:km1HighS,hEnd:8600,hC:km1HighCens,lT:km1LowT,lS:km1LowS,lEnd:8500,lC:km1LowCens});
km('km-gse',{x0:801.8,sx:19.5,y0:1429.6,sy:180.8,title:'GSE20685 cohort',titleX:930.4,titleY:1193,legY:1215.2,lhX:853.8,lhT:868,llX:959,llT:973,
 axX:787.2,axTop:1240,axY:1439,axR:1109,xt:km2XTicks,xlab:'Years',xlabX:947,ylabX:749,pX:807.6,pY:1400,p:'p = 0.019',
 hT:km2HighT,hS:km2HighS,hEnd:14.1,hC:km2HighCens,lT:km2LowT,lS:km2LowS,lEnd:14.3,lC:km2LowCens});
</script>
</body></html>
